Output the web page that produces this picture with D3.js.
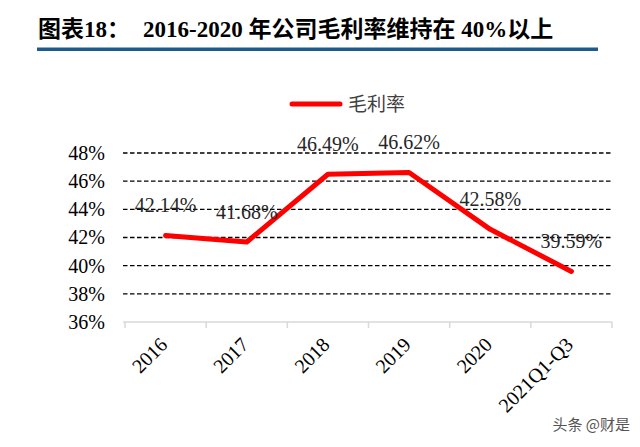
<!DOCTYPE html>
<html>
<head>
<meta charset="utf-8">
<script src="https://cdn.jsdelivr.net/npm/d3@7/dist/d3.min.js"></script>
<style>
  html, body { margin: 0; padding: 0; background: #fff; }
  svg { display: block; }
</style>
</head>
<body>
<svg id="chart" width="640" height="447"></svg>
<script>
// values
const categories = ["2016", "2017", "2018", "2019", "2020", "2021Q1-Q3"];
const grossMargin = [42.14, 41.68, 46.49, 46.62, 42.58, 39.59];
const yTicks = [36, 38, 40, 42, 44, 46, 48];
const seriesName = "毛利率";

const svg = d3.select("#chart");
const serif = "'Liberation Serif', 'Times New Roman', serif";
const cjk = "'Noto Sans CJK SC', sans-serif";

// title + rule
const title = svg.append("g")
  .attr("font-family", `${serif}, ${cjk}`)
  .attr("font-weight", "bold")
  .attr("font-size", 23)
  .attr("fill", "#000");
title.append("text").attr("x", 38).attr("y", 37).text("图表18：");
title.append("text").attr("x", 143).attr("y", 37).text("2016-2020 年公司毛利率维持在 40%以上");
svg.append("rect").attr("x", 37).attr("y", 47.5).attr("width", 561).attr("height", 3.5).attr("fill", "#1d5a8e");

const plot = { left: 125, right: 612, top: 153, bottom: 322 };

const x = d3.scaleBand().domain(categories).range([plot.left, plot.right]);
const y = d3.scaleLinear().domain([36, 48]).range([plot.bottom, plot.top]);

// dashed gridlines (not at the baseline)
svg.append("g")
  .selectAll("line")
  .data(yTicks.filter(d => d > 36))
  .join("line")
  .attr("x1", plot.left - 2)
  .attr("x2", plot.right)
  .attr("y1", d => y(d))
  .attr("y2", d => y(d))
  .attr("stroke", "#000")
  .attr("stroke-width", 1.3)
  .attr("stroke-dasharray", "4.5,2.5");

// y axis labels
const yAxis = svg.append("g")
  .attr("transform", `translate(${plot.left - 20},0)`)
  .call(d3.axisLeft(y).tickValues(yTicks).tickFormat(d => d + "%").tickSize(0).tickPadding(0));
yAxis.select(".domain").remove();
yAxis.selectAll("text")
  .attr("font-family", serif)
  .attr("font-size", 20)
  .attr("fill", "#000");

// x axis: light grey baseline with downward ticks at band edges
const xAxis = svg.append("g").attr("transform", `translate(0,${plot.bottom})`);
xAxis.append("line")
  .attr("x1", plot.left - 2).attr("x2", plot.right)
  .attr("stroke", "#d9d9d9").attr("stroke-width", 1.5);
const edges = categories.map(c => x(c)).concat([x(categories[categories.length - 1]) + x.bandwidth()]);
xAxis.selectAll("line.tick")
  .data(edges)
  .join("line")
  .attr("class", "tick")
  .attr("x1", d => d).attr("x2", d => d)
  .attr("y1", 0).attr("y2", 6)
  .attr("stroke", "#d9d9d9").attr("stroke-width", 1.5);
xAxis.selectAll("text")
  .data(categories)
  .join("text")
  .attr("transform", d => `translate(${x(d) + x.bandwidth() / 2 + 3},24) rotate(-45)`)
  .attr("text-anchor", "end")
  .attr("font-family", serif)
  .attr("font-size", 20)
  .attr("fill", "#000")
  .text(d => d);

// series line
const cx = d => x(d) + x.bandwidth() / 2;
const line = d3.line()
  .x((d, i) => cx(categories[i]))
  .y(d => y(d));
svg.append("path")
  .datum(grossMargin)
  .attr("d", line)
  .attr("fill", "none")
  .attr("stroke", "#ff0000")
  .attr("stroke-width", 5)
  .attr("stroke-linecap", "round")
  .attr("stroke-linejoin", "round");

// data labels
svg.append("g")
  .selectAll("text")
  .data(grossMargin)
  .join("text")
  .attr("x", (d, i) => cx(categories[i]))
  .attr("y", d => y(d) - 23.5)
  .attr("text-anchor", "middle")
  .attr("font-family", serif)
  .attr("font-size", 20)
  .attr("fill", "#262626")
  .text(d => d.toFixed(2) + "%");

// legend
const legend = svg.append("g");
legend.append("line")
  .attr("x1", 292).attr("x2", 340).attr("y1", 104).attr("y2", 104)
  .attr("stroke", "#ff0000").attr("stroke-width", 5).attr("stroke-linecap", "round");
legend.append("text")
  .attr("x", 348).attr("y", 104).attr("dy", "0.35em")
  .attr("font-family", cjk)
  .attr("font-size", 19)
  .attr("fill", "#404040")
  .text(seriesName);

// watermark
svg.append("text")
  .attr("x", 630).attr("y", 430)
  .attr("text-anchor", "end")
  .attr("font-family", cjk)
  .attr("font-size", 15)
  .attr("fill", "#555")
  .attr("stroke", "#fff").attr("stroke-width", 2).attr("paint-order", "stroke")
  .text("头条 @财是");
</script>
</body>
</html>
